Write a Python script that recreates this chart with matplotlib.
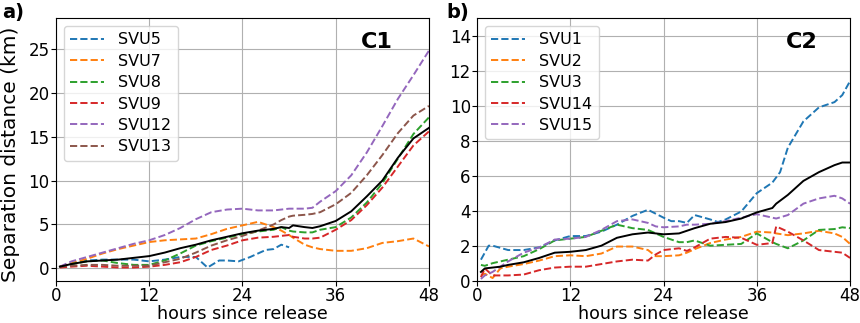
import matplotlib
matplotlib.use("Agg")
import matplotlib.pyplot as plt

# ---- panel a) C1 ----
svu5_h = [0.5, 2, 4, 6, 8, 10, 12, 14, 16, 18, 19.5, 21, 22, 23.5, 25, 27, 28, 29, 30]
svu5 = [0.2, 0.5, 0.9, 1.0, 1.0, 1.0, 0.8, 1.0, 1.3, 1.3, 0.1, 0.9, 0.9, 0.8, 1.3, 2.1, 2.2, 2.7, 2.4]

c1_h = [0.5, 2, 4, 6, 8, 10, 12, 14, 16, 18, 20, 22, 24, 26, 28, 29, 30, 30.5, 32, 33, 34, 36, 38, 40, 42, 44, 46, 48]
svu7 = [0.2, 0.6, 1.1, 1.7, 2.2, 2.6, 3.0, 3.2, 3.3, 3.4, 3.9, 4.5, 4.9, 5.3, 4.7, 4.3, 3.8, 3.5, 2.7, 2.4, 2.2, 2.0, 2.0, 2.3, 2.9, 3.1, 3.4, 2.5]
svu8 = [0.2, 0.5, 0.8, 0.9, 0.6, 0.4, 0.4, 0.9, 1.7, 2.6, 3.1, 3.5, 3.9, 4.2, 4.4, 4.7, 4.3, 4.2, 4.1, 4.1, 4.4, 4.7, 5.8, 7.5, 9.7, 12.5, 15.3, 17.2]
svu9 = [0.1, 0.2, 0.3, 0.2, 0.1, 0.1, 0.2, 0.4, 0.7, 1.3, 2.1, 2.6, 3.2, 3.5, 3.6, 3.7, 3.8, 3.6, 3.4, 3.4, 3.5, 4.4, 5.5, 7.2, 9.2, 11.6, 14.0, 15.6]
svu12 = [0.2, 0.8, 1.3, 1.8, 2.3, 2.8, 3.2, 3.8, 4.6, 5.6, 6.4, 6.7, 6.8, 6.6, 6.6, 6.7, 6.8, 6.8, 6.8, 6.9, 7.6, 8.8, 10.6, 13.2, 16.2, 19.3, 22.0, 24.8]
svu13 = [0.2, 0.3, 0.4, 0.4, 0.3, 0.3, 0.3, 0.7, 1.1, 1.8, 2.6, 3.2, 3.7, 4.3, 5.0, 5.5, 5.9, 6.0, 6.1, 6.2, 6.4, 7.3, 8.6, 10.6, 12.9, 15.4, 17.4, 18.5]
c1_mean = [0.2, 0.5, 0.8, 0.9, 1.0, 1.2, 1.4, 1.8, 2.3, 2.7, 3.2, 3.6, 4.0, 4.3, 4.5, 4.7, 4.6, 4.9, 4.7, 4.6, 4.8, 5.4, 6.5, 8.2, 10.0, 12.6, 14.8, 16.0]

# ---- panel b) C2 ----
svu1_h = [0.5, 1.5, 2, 4, 6, 8, 10, 12, 14, 16, 18, 20, 22, 24, 25, 26, 27, 28, 30, 31, 32, 34, 36, 38, 39, 40, 42, 44, 46, 47, 48]
svu1 = [1.2, 2.0, 2.0, 1.75, 1.75, 1.9, 2.3, 2.55, 2.55, 2.8, 3.2, 3.7, 4.05, 3.6, 3.4, 3.4, 3.3, 3.75, 3.5, 3.35, 3.5, 3.95, 5.0, 5.6, 6.2, 7.6, 9.1, 9.9, 10.2, 10.6, 11.4]

c2_h = [0.5, 1, 2, 3, 4, 6, 8, 10, 12, 14, 16, 18, 20, 22, 23, 24, 26, 27, 28, 30, 32, 34, 36, 38, 38.5, 40, 42, 44, 46, 47, 48]
svu2 = [0.3, 0.4, 0.15, 0.7, 0.8, 0.95, 1.15, 1.4, 1.45, 1.4, 1.55, 1.95, 1.95, 1.75, 1.4, 1.4, 1.45, 1.6, 1.8, 2.15, 2.35, 2.5, 2.8, 2.75, 2.7, 2.6, 2.7, 2.85, 2.7, 2.5, 2.1]
svu3 = [0.9, 0.85, 1.0, 1.1, 1.2, 1.4, 1.8, 2.3, 2.4, 2.5, 2.85, 3.2, 3.0, 2.9, 2.7, 2.5, 2.2, 2.2, 2.3, 2.0, 2.05, 2.1, 2.7, 2.2, 2.1, 1.85, 2.3, 2.9, 2.95, 3.05, 3.0]
svu14 = [0.2, 0.7, 0.3, 0.3, 0.3, 0.35, 0.6, 0.75, 0.8, 0.8, 0.95, 1.1, 1.2, 1.15, 1.5, 1.75, 1.85, 1.7, 1.9, 2.4, 2.5, 2.45, 2.05, 2.15, 3.1, 2.8, 2.3, 1.75, 1.65, 1.6, 1.3]
svu15 = [0.1, 0.3, 0.5, 0.8, 1.1, 1.6, 1.9, 2.35, 2.4, 2.5, 2.9, 3.4, 3.5, 3.3, 3.1, 3.05, 3.1, 3.2, 3.2, 3.25, 3.4, 3.6, 3.8, 3.6, 3.55, 3.75, 4.4, 4.7, 4.85, 4.7, 4.4]
c2_mean = [0.5, 0.7, 0.75, 0.8, 0.9, 1.05, 1.3, 1.6, 1.65, 1.75, 2.0, 2.45, 2.65, 2.75, 2.7, 2.65, 2.7, 2.85, 3.0, 3.25, 3.35, 3.55, 3.9, 4.15, 4.4, 4.9, 5.7, 6.2, 6.6, 6.75, 6.75]

hour_ticks = [0, 12, 24, 36, 48]

fig = plt.figure(figsize=(8.6, 3.23), dpi=100)
ax1 = fig.add_axes([0.0651, 0.131, 0.4337, 0.813])
ax2 = fig.add_axes([0.5547, 0.131, 0.4337, 0.813])

ls = dict(linestyle="--", linewidth=1.4)
ax1.plot(svu5_h, svu5, color="tab:blue", label="SVU5", **ls)
ax1.plot(c1_h, svu7, color="tab:orange", label="SVU7", **ls)
ax1.plot(c1_h, svu8, color="tab:green", label="SVU8", **ls)
ax1.plot(c1_h, svu9, color="tab:red", label="SVU9", **ls)
ax1.plot(c1_h, svu12, color="tab:purple", label="SVU12", **ls)
ax1.plot(c1_h, svu13, color="tab:brown", label="SVU13", **ls)
ax1.plot(c1_h, c1_mean, color="black", linewidth=1.4)

ax2.plot(svu1_h, svu1, color="tab:blue", label="SVU1", **ls)
ax2.plot(c2_h, svu2, color="tab:orange", label="SVU2", **ls)
ax2.plot(c2_h, svu3, color="tab:green", label="SVU3", **ls)
ax2.plot(c2_h, svu14, color="tab:red", label="SVU14", **ls)
ax2.plot(c2_h, svu15, color="tab:purple", label="SVU15", **ls)
ax2.plot(c2_h, c2_mean, color="black", linewidth=1.4)

ax1.set_xlim(0, 48)
ax1.set_ylim(-1.4, 28.5)
ax1.set_yticks([0, 5, 10, 15, 20, 25])
ax2.set_xlim(0, 48)
ax2.set_ylim(0, 15)
ax2.set_yticks([0, 2, 4, 6, 8, 10, 12, 14])

for ax in (ax1, ax2):
    ax.set_xticks(hour_ticks)
    ax.grid(True, color="#b0b0b0", linewidth=0.8)
    ax.tick_params(labelsize=12, pad=1)
    ax.set_xlabel("hours since release", fontsize=12.6, labelpad=0)
    ax.legend(loc="upper left", fontsize=11.5, labelspacing=0.4,
              handlelength=2.1, handletextpad=0.9)

ax1.set_ylabel("Separation distance (km)", fontsize=14.5)
ax1.yaxis.set_label_coords(-0.097, 0.48)

ax1.text(0.86, 0.91, "C1", transform=ax1.transAxes, fontsize=16,
         fontweight="bold", ha="center", va="center")
ax2.text(0.87, 0.91, "C2", transform=ax2.transAxes, fontsize=16,
         fontweight="bold", ha="center", va="center")
fig.text(0.002, 0.99, "a)", fontsize=14, fontweight="bold", ha="left", va="top")
fig.text(0.519, 0.99, "b)", fontsize=14, fontweight="bold", ha="left", va="top")

fig.savefig("out.png", dpi=100)
